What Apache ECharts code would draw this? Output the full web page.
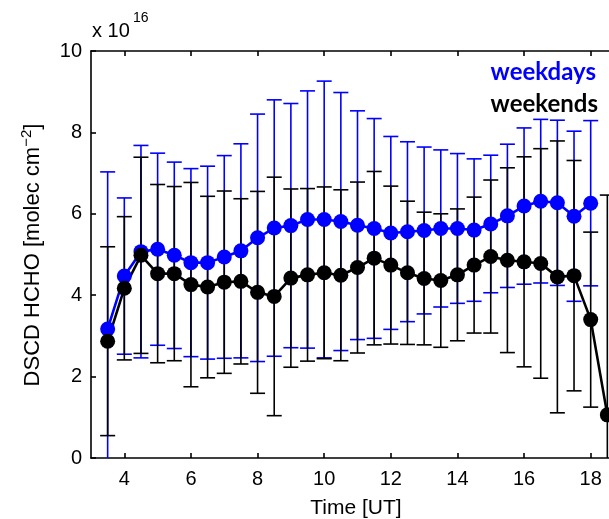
<!DOCTYPE html>
<html>
<head>
<meta charset="utf-8">
<script src="https://cdn.jsdelivr.net/npm/echarts@6/dist/echarts.min.js"></script>
<style>
html,body{margin:0;padding:0;background:#fff;}
#chart{width:609px;height:519px;}
</style>
</head>
<body>
<div id="chart"></div>
<script>
// Time of day (UT)
var hoursWeekdays = [3.5, 4, 4.5, 5, 5.5, 6, 6.5, 7, 7.5, 8, 8.5, 9, 9.5, 10, 10.5,
  11, 11.5, 12, 12.5, 13, 13.5, 14, 14.5, 15, 15.5, 16, 16.5, 17, 17.5, 18];
var hoursWeekends = [3.5, 4, 4.5, 5, 5.5, 6, 6.5, 7, 7.5, 8, 8.5, 9, 9.5, 10, 10.5,
  11, 11.5, 12, 12.5, 13, 13.5, 14, 14.5, 15, 15.5, 16, 16.5, 17, 17.5, 18, 18.5];
// DSCD HCHO (x 1e16 molec cm^-2)
var weekdaysMean = [3.17, 4.47, 5.07, 5.13, 4.98, 4.80, 4.80, 4.94, 5.09, 5.41, 5.65, 5.71, 5.86, 5.86, 5.81,
  5.72, 5.64, 5.53, 5.56, 5.59, 5.64, 5.64, 5.60, 5.75, 5.95, 6.19, 6.31, 6.27, 5.94, 6.26];
var weekdaysErr = [3.86, 1.92, 2.61, 2.36, 2.29, 2.31, 2.37, 2.49, 2.63, 3.04, 3.15, 3.00, 3.16, 3.40, 3.17,
  2.81, 2.70, 2.37, 2.21, 2.05, 1.93, 1.84, 1.75, 1.69, 1.76, 1.92, 2.01, 2.03, 2.09, 2.03];
var weekendsMean = [2.87, 4.17, 4.98, 4.53, 4.53, 4.26, 4.20, 4.32, 4.34, 4.07, 3.97, 4.42, 4.50, 4.55, 4.49,
  4.68, 4.91, 4.74, 4.55, 4.41, 4.36, 4.50, 4.74, 4.95, 4.86, 4.82, 4.78, 4.45, 4.48, 3.40, 1.06];
var weekendsErr = [2.32, 1.76, 2.41, 2.19, 2.14, 2.51, 2.23, 2.24, 2.03, 2.48, 2.93, 2.19, 2.12, 2.11, 2.10,
  2.10, 2.13, 1.94, 1.76, 1.63, 1.64, 1.62, 1.67, 1.88, 2.27, 2.58, 2.82, 3.34, 2.83, 2.15, 5.40];
var xTicks = [4, 6, 8, 10, 12, 14, 16, 18];
var seriesNames = ['weekdays', 'weekends'];

var BLUE = '#0000ff', BLACK = '#000000';
var FONT = '"Liberation Sans", Arial, sans-serif';

function errData(xs, m, e) {
  return xs.map(function (x, i) { return [x, m[i], e[i]]; });
}
function lineData(xs, m) {
  return xs.map(function (x, i) { return [x, m[i]]; });
}
function errRender(color) {
  return function (params, api) {
    var x = api.value(0), m = api.value(1), e = api.value(2);
    var cs = params.coordSys;
    var top = cs.y, bot = cs.y + cs.height;
    var hi = api.coord([x, m + e]);
    var lo = api.coord([x, m - e]);
    var hw = 7.5;
    var st = { stroke: color, lineWidth: 1.6 };
    var children = [];
    var y1 = Math.max(hi[1], top), y2 = Math.min(lo[1], bot);
    children.push({ type: 'line', shape: { x1: hi[0], y1: y1, x2: lo[0], y2: y2 }, style: st });
    if (hi[1] >= top) children.push({ type: 'line', shape: { x1: hi[0] - hw, y1: hi[1], x2: hi[0] + hw, y2: hi[1] }, style: st });
    if (lo[1] <= bot) children.push({ type: 'line', shape: { x1: lo[0] - hw, y1: lo[1], x2: lo[0] + hw, y2: lo[1] }, style: st });
    return { type: 'group', children: children };
  };
}

var chart = echarts.init(document.getElementById('chart'), null, { renderer: 'canvas' });
var axisLineStyle = { color: '#000', width: 1.6 };
chart.setOption({
  animation: false,
  backgroundColor: '#fff',
  grid: { left: 91, top: 51, width: 533, bottom: 61, show: false, containLabel: false, outerBoundsMode: 'none' },
  xAxis: [{
    type: 'value', min: 3, max: 19, position: 'bottom',
    axisLine: { show: true, onZero: false, lineStyle: axisLineStyle },
    axisTick: { show: true, inside: true, length: 5, customValues: xTicks, lineStyle: axisLineStyle },
    axisLabel: { show: true, customValues: xTicks, margin: 11, fontSize: 20, color: '#000', fontFamily: FONT },
    splitLine: { show: false }
  }, {
    type: 'value', min: 3, max: 19, position: 'top',
    axisLine: { show: true, onZero: false, lineStyle: axisLineStyle },
    axisTick: { show: true, inside: true, length: 5, customValues: xTicks, lineStyle: axisLineStyle },
    axisLabel: { show: false },
    splitLine: { show: false }
  }],
  yAxis: [{
    type: 'value', min: 0, max: 10, interval: 2, position: 'left',
    axisLine: { show: true, onZero: false, lineStyle: axisLineStyle },
    axisTick: { show: true, inside: true, length: 5, lineStyle: axisLineStyle },
    axisLabel: { margin: 9, fontSize: 20, color: '#000', fontFamily: FONT },
    splitLine: { show: false }
  }],
  series: [{
    type: 'custom', name: seriesNames[0] + ' err', renderItem: errRender(BLUE),
    data: errData(hoursWeekdays, weekdaysMean, weekdaysErr), encode: { x: 0, y: 1 }, clip: true
  }, {
    type: 'custom', name: seriesNames[1] + ' err', renderItem: errRender(BLACK),
    data: errData(hoursWeekends, weekendsMean, weekendsErr), encode: { x: 0, y: 1 }, clip: true
  }, {
    type: 'line', name: seriesNames[0], data: lineData(hoursWeekdays, weekdaysMean),
    symbol: 'circle', symbolSize: 15, showAllSymbol: true,
    lineStyle: { color: BLUE, width: 2.6 }, itemStyle: { color: BLUE }
  }, {
    type: 'line', name: seriesNames[1], data: lineData(hoursWeekends, weekendsMean),
    symbol: 'circle', symbolSize: 15, showAllSymbol: true,
    lineStyle: { color: BLACK, width: 2.6 }, itemStyle: { color: BLACK }
  }],
  graphic: [
    { type: 'text', left: 92, top: 21, style: { text: 'x 10', font: '20px ' + FONT, fill: '#000' } },
    { type: 'text', left: 133, top: 11, style: { text: '16', font: '14px ' + FONT, fill: '#000' } },
    { type: 'text', right: 13, top: 60, style: { text: seriesNames[0], font: 'bold 24px Lato, sans-serif', fill: BLUE } },
    { type: 'text', right: 11, top: 92, style: { text: seriesNames[1], font: 'bold 24px Lato, sans-serif', fill: BLACK } },
    { type: 'text', x: 356, y: 508, style: { text: 'Time [UT]', font: '21px ' + FONT, fill: '#000', align: 'center', verticalAlign: 'middle' } },
    {
      type: 'text', x: 33, y: 255, rotation: Math.PI / 2,
      style: {
        text: '{a|DSCD HCHO [molec cm}{s|\u22122}{a|]}',
        align: 'center', verticalAlign: 'middle',
        rich: {
          a: { fontSize: 22, fontFamily: FONT, fill: '#000', color: '#000', lineHeight: 28 },
          s: { fontSize: 15, fontFamily: FONT, fill: '#000', color: '#000', lineHeight: 28, padding: [0, 0, 13, 0] }
        }
      }
    }
  ]
});
</script>
</body>
</html>
